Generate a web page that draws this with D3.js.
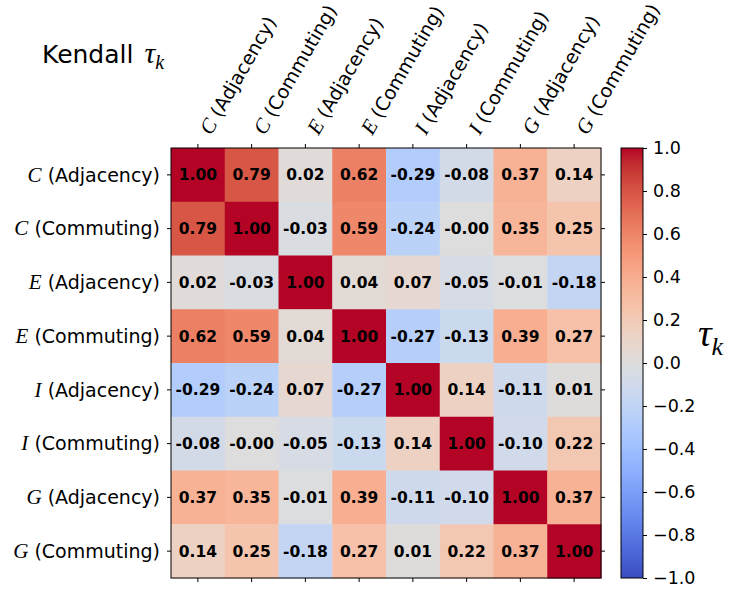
<!DOCTYPE html>
<html lang="en">
<head>
<meta charset="utf-8">
<script src="https://d3js.org/d3.v7.min.js"></script>
<style>
  body { margin: 0; background: #fff; }
  text { font-family: "DejaVu Sans", sans-serif; }
  .m { font-family: "Liberation Serif", "DejaVu Serif", serif; font-style: italic; }
</style>
</head>
<body>
<svg id="chart" width="732" height="592"></svg>
<script>
// matrix labels
var letters = ["C", "C", "E", "E", "I", "I", "G", "G"];
var kinds = ["Adjacency", "Commuting", "Adjacency", "Commuting", "Adjacency", "Commuting", "Adjacency", "Commuting"];

// Kendall tau values, row by row
var rowCA = [1.00, 0.79, 0.02, 0.62, -0.29, -0.08, 0.37, 0.14];
var rowCC = [0.79, 1.00, -0.03, 0.59, -0.24, -0.001, 0.35, 0.25];
var rowEA = [0.02, -0.03, 1.00, 0.04, 0.07, -0.05, -0.01, -0.18];
var rowEC = [0.62, 0.59, 0.04, 1.00, -0.27, -0.13, 0.39, 0.27];
var rowIA = [-0.29, -0.24, 0.07, -0.27, 1.00, 0.14, -0.11, 0.01];
var rowIC = [-0.08, -0.001, -0.05, -0.13, 0.14, 1.00, -0.10, 0.22];
var rowGA = [0.37, 0.35, -0.01, 0.39, -0.11, -0.10, 1.00, 0.37];
var rowGC = [0.14, 0.25, -0.18, 0.27, 0.01, 0.22, 0.37, 1.00];
var rows = [rowCA, rowCC, rowEA, rowEC, rowIA, rowIC, rowGA, rowGC];

var cbTicks = [-1.0, -0.8, -0.6, -0.4, -0.2, 0.0, 0.2, 0.4, 0.6, 0.8, 1.0];

// coolwarm colour table (Moreland)
var cw = [[59,76,192],[68,90,204],[77,104,215],[87,117,225],[98,130,234],[108,142,241],
  [119,154,247],[130,165,251],[141,176,254],[152,185,255],[163,194,255],[174,201,253],
  [184,208,249],[194,213,244],[204,217,238],[213,219,230],[221,221,221],[229,216,209],
  [236,211,197],[241,204,184],[245,196,172],[247,187,160],[247,177,148],[247,166,135],
  [244,154,123],[241,141,111],[236,127,99],[229,112,88],[222,96,77],[213,80,66],
  [203,62,56],[192,40,47],[180,4,38]];
var cwColors = cw.map(function(c) { return d3.rgb(c[0], c[1], c[2]).toString(); });
var color = d3.scaleLinear()
  .domain(cwColors.map(function(c, i) { return -1 + 2 * i / (cwColors.length - 1); }))
  .range(cwColors)
  .interpolate(d3.interpolateRgb)
  .clamp(true);

var svg = d3.select("#chart");
var mLeft = 171, mRight = 601, mTop = 148, mBottom = 578;
var idx = d3.range(letters.length);
var x = d3.scaleBand().domain(idx).range([mLeft, mRight]);
var y = d3.scaleBand().domain(idx).range([mTop, mBottom]);

var cells = [];
rows.forEach(function(r, i) {
  r.forEach(function(v, j) { cells.push({ r: i, c: j, v: v }); });
});

svg.append("g").selectAll("rect").data(cells).enter().append("rect")
  .attr("x", function(d) { return x(d.c); })
  .attr("y", function(d) { return y(d.r); })
  .attr("width", x.bandwidth() + 0.5)
  .attr("height", y.bandwidth() + 0.5)
  .attr("fill", function(d) { return color(d.v); });

svg.append("g").selectAll("text").data(cells).enter().append("text")
  .attr("x", function(d) { return x(d.c) + x.bandwidth() / 2; })
  .attr("y", function(d) { return y(d.r) + y.bandwidth() / 2; })
  .attr("dy", "0.36em")
  .attr("text-anchor", "middle")
  .style("font-size", "15.5px")
  .style("font-weight", "bold")
  .text(function(d) { return d.v.toFixed(2); });

// ticks on all four sides
function ticks(g) {
  g.select(".domain").remove();
  g.selectAll("line").attr("stroke", "#000").attr("stroke-width", 1);
}
svg.append("g").attr("transform", "translate(" + mLeft + ",0)")
  .call(d3.axisLeft(y).tickSize(4).tickFormat("")).call(ticks);
svg.append("g").attr("transform", "translate(" + mRight + ",0)")
  .call(d3.axisRight(y).tickSize(4).tickFormat("")).call(ticks);
svg.append("g").attr("transform", "translate(0," + mTop + ")")
  .call(d3.axisTop(x).tickSize(4).tickFormat("")).call(ticks);
svg.append("g").attr("transform", "translate(0," + mBottom + ")")
  .call(d3.axisBottom(x).tickSize(4).tickFormat("")).call(ticks);

svg.append("rect").attr("x", mLeft).attr("y", mTop)
  .attr("width", mRight - mLeft).attr("height", mBottom - mTop)
  .attr("fill", "none").attr("stroke", "#000").attr("stroke-width", 1);

// row labels
var rl = svg.append("g").selectAll("text").data(idx).enter().append("text")
  .attr("x", mLeft - 11)
  .attr("y", function(i) { return y(i) + y.bandwidth() / 2; })
  .attr("dy", "0.36em")
  .attr("text-anchor", "end")
  .style("font-size", "19px");
rl.append("tspan").attr("class", "m").style("font-size", "21px").text(function(i) { return letters[i]; });
rl.append("tspan").text(function(i) { return " (" + kinds[i] + ")"; });

// column labels, rotated
var cl = svg.append("g").selectAll("text").data(idx).enter().append("text")
  .attr("transform", function(i) {
    return "translate(" + (x(i) + x.bandwidth() / 2 + 13) + "," + (mTop - 12) + ") rotate(-60)";
  })
  .attr("text-anchor", "start")
  .style("font-size", "19px");
cl.append("tspan").attr("class", "m").style("font-size", "21px").text(function(i) { return letters[i]; });
cl.append("tspan").text(function(i) { return " (" + kinds[i] + ")"; });

// title
var title = svg.append("text").attr("x", 42).attr("y", 63).style("font-size", "25px");
title.append("tspan").text("Kendall ");
title.append("tspan").attr("class", "m").attr("dx", 3).style("font-size", "30px").text("\u03C4");
title.append("tspan").attr("class", "m").attr("dy", 6).style("font-size", "20px").text("k");

// colorbar
var cbx = 621, cbw = 22;
var cy = d3.scaleLinear().domain([-1, 1]).range([mBottom, mTop]);
var grad = svg.append("defs").append("linearGradient")
  .attr("id", "cbgrad").attr("x1", 0).attr("y1", 1).attr("x2", 0).attr("y2", 0);
grad.selectAll("stop").data(color.domain()).enter().append("stop")
  .attr("offset", function(d) { return (d + 1) / 2; })
  .attr("stop-color", function(d) { return color(d); });
svg.append("rect").attr("x", cbx).attr("y", mTop).attr("width", cbw).attr("height", mBottom - mTop)
  .attr("fill", "url(#cbgrad)").attr("stroke", "#000").attr("stroke-width", 1);
var cbAxis = svg.append("g").attr("transform", "translate(" + (cbx + cbw) + ",0)")
  .call(d3.axisRight(cy).tickValues(cbTicks).tickSize(4).tickPadding(6)
    .tickFormat(function(d) { return d3.format(".1f")(d); }));
cbAxis.call(ticks);
cbAxis.selectAll("text").style("font-size", "17.5px").style("font-family", "DejaVu Sans, sans-serif");

var cbl = svg.append("text").attr("x", 698).attr("y", 346);
cbl.append("tspan").attr("class", "m").style("font-size", "38px").text("\u03C4");
cbl.append("tspan").attr("class", "m").attr("dy", 9).style("font-size", "26px").text("k");
</script>
</body>
</html>
